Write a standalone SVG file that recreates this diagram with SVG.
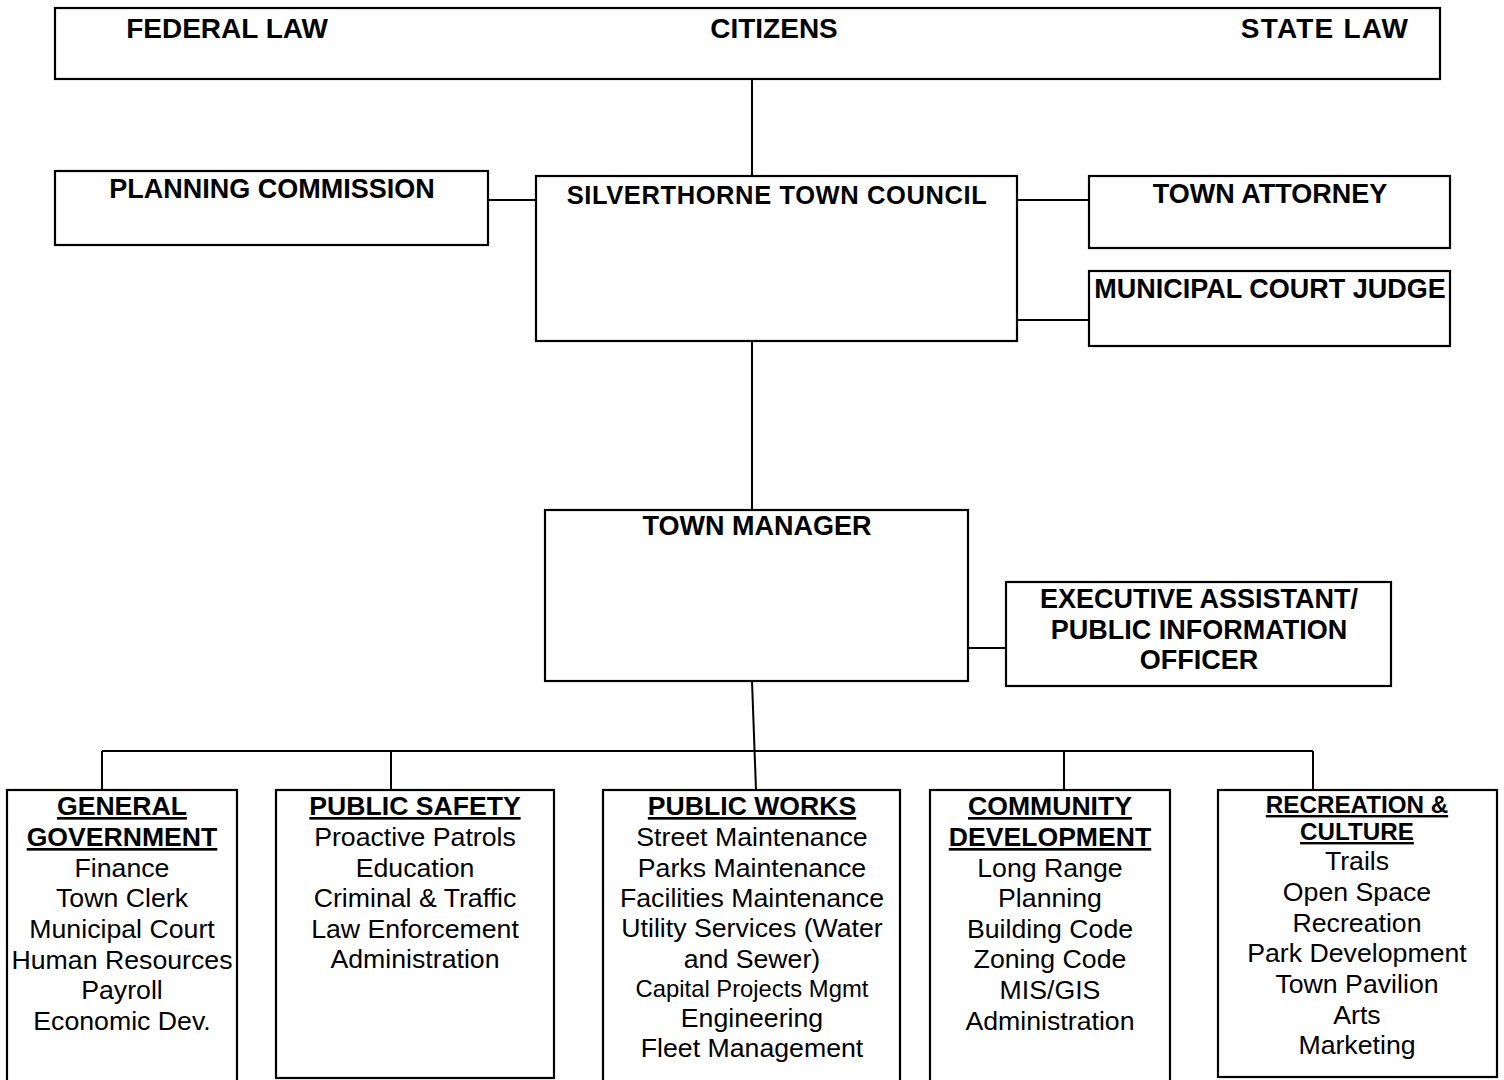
<svg xmlns="http://www.w3.org/2000/svg" width="1504" height="1080" viewBox="0 0 1504 1080">
<style>
.box{fill:#fff;stroke:#000;stroke-width:2.2}
.con line,.con path{stroke:#000;stroke-width:2;fill:none}
text{font-family:"Liberation Sans",Arial,sans-serif;fill:#000;text-anchor:middle}
.t{font-weight:bold;font-size:27px}
.top{font-weight:bold;font-size:28px}
.h{font-weight:bold;font-size:26.6px;text-decoration:underline}
.hs{font-weight:bold;font-size:24.2px;text-decoration:underline}
.i{font-size:26.7px}
.is{font-size:23.8px}
</style>
<rect width="1504" height="1080" fill="#fff"/>
<g class="con">
<line x1="752" y1="79" x2="752" y2="176"/>
<line x1="488" y1="200" x2="536" y2="200"/>
<line x1="1017" y1="200" x2="1089" y2="200"/>
<line x1="1017" y1="320" x2="1089" y2="320"/>
<line x1="752" y1="341" x2="752" y2="510"/>
<line x1="968" y1="648" x2="1006" y2="648"/>
<line x1="752" y1="681" x2="756" y2="790"/>
<line x1="102" y1="751" x2="1313" y2="751"/>
<line x1="102" y1="751" x2="102" y2="790"/>
<line x1="391" y1="751" x2="391" y2="790"/>
<line x1="1064" y1="751" x2="1064" y2="790"/>
<line x1="1313" y1="751" x2="1313" y2="790"/>
</g>
<g id="top">
<rect class="box" x="55" y="8" width="1385" height="71"/>
<text class="top" x="227" y="38">FEDERAL LAW</text>
<text class="top" x="774" y="38">CITIZENS</text>
<text class="top" x="1325" y="38" style="letter-spacing:1.2px">STATE LAW</text>
</g>
<g id="planning">
<rect class="box" x="55" y="171" width="433" height="74"/>
<text class="t" x="272" y="198">PLANNING COMMISSION</text>
</g>
<g id="council">
<rect class="box" x="536" y="176" width="481" height="165"/>
<text class="t" x="777" y="204" style="font-size:25.5px;letter-spacing:0.6px">SILVERTHORNE TOWN COUNCIL</text>
</g>
<g id="attorney">
<rect class="box" x="1089" y="176" width="361" height="72"/>
<text class="t" x="1270" y="203">TOWN ATTORNEY</text>
</g>
<g id="judge">
<rect class="box" x="1089" y="271" width="361" height="75"/>
<text class="t" x="1270" y="298">MUNICIPAL COURT JUDGE</text>
</g>
<g id="manager">
<rect class="box" x="545" y="510" width="423" height="171"/>
<text class="t" x="757" y="535">TOWN MANAGER</text>
</g>
<g id="exec">
<rect class="box" x="1006" y="582" width="385" height="104"/>
<text class="t" x="1199" y="608">EXECUTIVE ASSISTANT/</text>
<text class="t" x="1199" y="639">PUBLIC INFORMATION</text>
<text class="t" x="1199" y="669">OFFICER</text>
</g>
<g id="general">
<rect class="box" x="7" y="790" width="230" height="300"/>
<text class="h" x="122" y="815">GENERAL</text>
<text class="h" x="122" y="846">GOVERNMENT</text>
<text class="i" x="122" y="877">Finance</text>
<text class="i" x="122" y="907">Town Clerk</text>
<text class="i" x="122" y="938">Municipal Court</text>
<text class="i" x="122" y="969">Human Resources</text>
<text class="i" x="122" y="999">Payroll</text>
<text class="i" x="122" y="1030">Economic Dev.</text>
</g>
<g id="safety">
<rect class="box" x="276" y="790" width="278" height="288"/>
<text class="h" x="415" y="815">PUBLIC SAFETY</text>
<text class="i" x="415" y="846">Proactive Patrols</text>
<text class="i" x="415" y="877">Education</text>
<text class="i" x="415" y="907">Criminal &amp; Traffic</text>
<text class="i" x="415" y="938">Law Enforcement</text>
<text class="i" x="415" y="968">Administration</text>
</g>
<g id="works">
<rect class="box" x="603" y="790" width="297" height="300"/>
<text class="h" x="752" y="815">PUBLIC WORKS</text>
<text class="i" x="752" y="846">Street Maintenance</text>
<text class="i" x="752" y="877">Parks Maintenance</text>
<text class="i" x="752" y="907">Facilities Maintenance</text>
<text class="i" x="752" y="937">Utility Services (Water</text>
<text class="i" x="752" y="968">and Sewer)</text>
<text class="is" x="752" y="997">Capital Projects Mgmt</text>
<text class="i" x="752" y="1027">Engineering</text>
<text class="i" x="752" y="1057">Fleet Management</text>
</g>
<g id="community">
<rect class="box" x="930" y="790" width="240" height="300"/>
<text class="h" x="1050" y="815">COMMUNITY</text>
<text class="h" x="1050" y="846">DEVELOPMENT</text>
<text class="i" x="1050" y="877">Long Range</text>
<text class="i" x="1050" y="907">Planning</text>
<text class="i" x="1050" y="938">Building Code</text>
<text class="i" x="1050" y="968">Zoning Code</text>
<text class="i" x="1050" y="999">MIS/GIS</text>
<text class="i" x="1050" y="1030">Administration</text>
</g>
<g id="recreation">
<rect class="box" x="1218" y="790" width="279" height="287"/>
<text class="hs" x="1357" y="813">RECREATION &amp;</text>
<text class="hs" x="1357" y="840">CULTURE</text>
<text class="i" x="1357" y="870">Trails</text>
<text class="i" x="1357" y="901">Open Space</text>
<text class="i" x="1357" y="932">Recreation</text>
<text class="i" x="1357" y="962">Park Development</text>
<text class="i" x="1357" y="993">Town Pavilion</text>
<text class="i" x="1357" y="1024">Arts</text>
<text class="i" x="1357" y="1054">Marketing</text>
</g>
</svg>
